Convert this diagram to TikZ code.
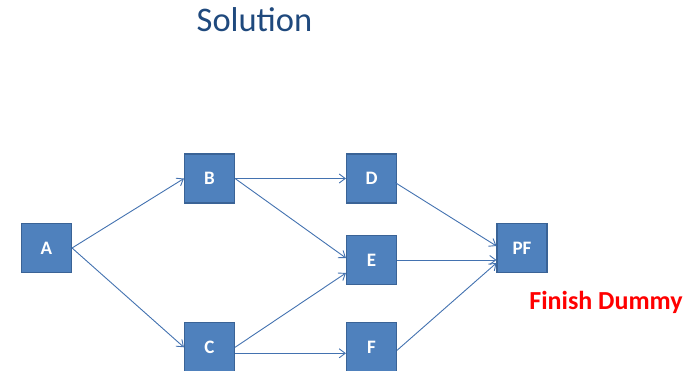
\documentclass[tikz,border=0pt]{standalone}
\usepackage{fontspec}
\setmainfont{Carlito}
\usetikzlibrary{arrows.meta,calc}
\definecolor{boxfill}{HTML}{4F81BD}
\definecolor{boxline}{HTML}{3A6396}
\definecolor{linkcol}{HTML}{4372B0}
\definecolor{titlecol}{HTML}{1F497D}
\begin{document}
\begin{tikzpicture}[x=1pt,y=-1pt,
  task/.style={draw=boxline,line width=1.1pt,fill=boxfill,minimum width=50pt,minimum height=49pt,
    inner sep=0pt,text=white,font=\fontsize{19}{22}\selectfont\bfseries},
  link/.style={draw=linkcol,line width=0.9pt,-{Straight Barb[length=6pt,width=9pt,line width=0.9pt]}}]
  \useasboundingbox (0,0) rectangle (693,371);

  % title and note
  \node[anchor=base,text=titlecol,font=\fontsize{34.5}{40}\selectfont,inner sep=0pt] (title) at (254.5,31.5) {Solution};
  \node[anchor=base,text=red,font=\fontsize{26}{30}\selectfont\bfseries,inner sep=0pt] (note) at (606,309.5) {Finish Dummy};

  % activity boxes
  \node[task] (A)  at (46.5,248)    {A};
  \node[task] (B)  at (209.5,178.5) {B};
  \node[task] (C)  at (209.5,347.3) {C};
  \node[task] (D)  at (371.5,178.5) {D};
  \node[task] (E)  at (371.5,260)   {E};
  \node[task] (F)  at (371.5,347.3) {F};
  \node[task] (PF) at (522,248)     {PF};

  % precedence arrows
  \draw[link] (A.east) -- (B.west);
  \draw[link] (A.east) -- (C.west);
  \draw[link] (B.east) -- (D.west);
  \draw[link] (B.east) -- ($(E.west)+(0,-2)$);
  \draw[link] (C.east) -- ($(E.west)+(0,13)$);
  \draw[link] ($(C.east)+(0,6)$) -- ($(F.west)+(0,6)$);
  \draw[link] ($(D.east)+(-2,4)$) -- ($(PF.west)+(0,-2)$);
  \draw[link] (E.east) -- (E.east -| PF.west);
  \draw[link] ($(F.east)+(0,3)$) -- ($(PF.west)+(0,15)$);
\end{tikzpicture}
\end{document}
